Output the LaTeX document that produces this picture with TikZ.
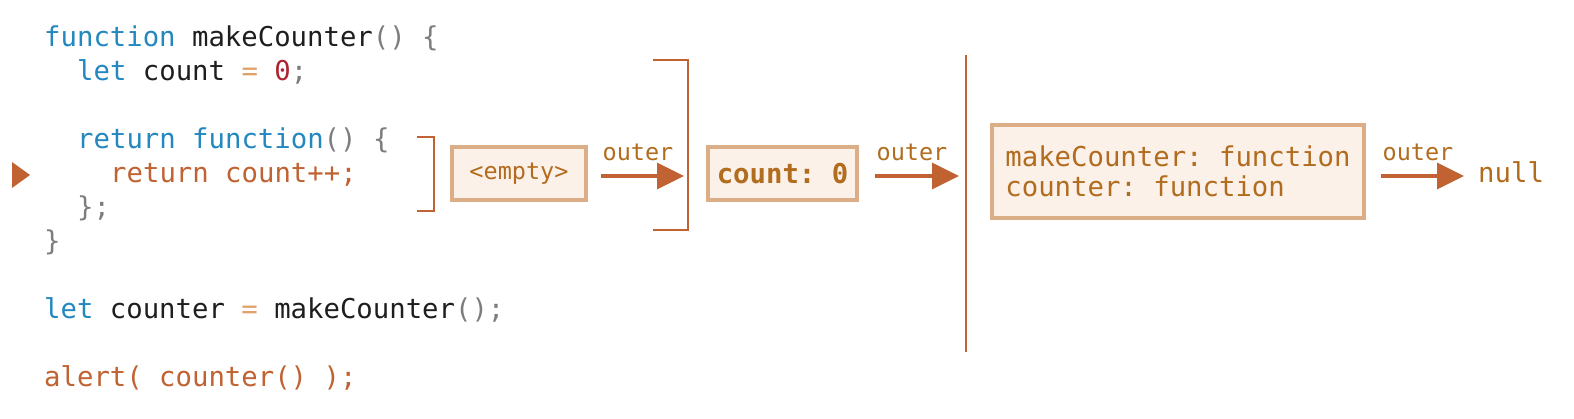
\documentclass[tikz,border=0pt]{standalone}
\usepackage{fontspec}
\setmonofont{DejaVu Sans Mono}
\usetikzlibrary{arrows.meta}
\definecolor{kwc}{RGB}{35,135,192}
\definecolor{fnc}{RGB}{30,30,30}
\definecolor{puc}{RGB}{125,125,125}
\definecolor{eqc}{RGB}{226,160,105}
\definecolor{numc}{RGB}{175,35,50}
\definecolor{hlc}{RGB}{192,98,50}
\definecolor{btc}{RGB}{178,108,30}
\definecolor{bbc}{RGB}{219,174,136}
\definecolor{bfc}{RGB}{251,241,233}
\newcommand\kwx[1]{\textcolor{kwc}{#1}}
\newcommand\fnx[1]{\textcolor{fnc}{#1}}
\newcommand\pux[1]{\textcolor{puc}{#1}}
\newcommand\eqx[1]{\textcolor{eqc}{#1}}
\newcommand\numx[1]{\textcolor{numc}{#1}}
\begin{document}
\begin{tikzpicture}[x=1pt,y=-1pt,
  code/.style={anchor=base west, inner sep=0pt, font=\ttfamily\fontsize{27.3}{34}\selectfont},
  envbox/.style={draw=bbc, fill=bfc, line width=4pt, text=btc, inner sep=0pt,
    font=\ttfamily\fontsize{27.3}{30}\selectfont},
  lbl/.style={anchor=base, inner sep=0pt, text=btc, font=\ttfamily\fontsize{23.5}{26}\selectfont},
  arr/.style={draw=hlc, line width=3.5pt, -{Triangle[width=26pt,length=27pt]}},
  brk/.style={draw=hlc, line width=2.5pt}]
\useasboundingbox[fill=white] (0,0) rectangle (1574,418);
% code
\node[code] (l1) at (44,46) {\kwx{function} \fnx{makeCounter}\pux{() \{}};
\node[code] (l2) at (77,80) {\kwx{let} \fnx{count} \eqx{=} \numx{0}\pux{;}};
\node[code] (l3) at (77,148) {\kwx{return function}\pux{() \{}};
\node[code, text=hlc] (l4) at (110,182) {return count++;};
\node[code] (l5) at (77,216) {\pux{\};}};
\node[code] (l6) at (44,250) {\pux{\}}};
\node[code] (l7) at (44,318) {\kwx{let} \fnx{counter} \eqx{=} \fnx{makeCounter}\pux{();}};
\node[code, text=hlc] (l8) at (44,386) {alert( counter() );};
% current line marker
\fill[hlc] (12,162) -- (30,175) -- (12,188) -- cycle;
% brackets
\draw[brk] (417,137) -- (434,137) -- (434,211) -- (417,211);
\draw[brk] (653,60) -- (688,60) -- (688,230) -- (653,230);
\draw[draw=hlc, line width=2.5pt] (966,55) -- (966,352);
% boxes
\node[envbox, minimum width=134pt, minimum height=53pt] (e) at (519,173.5) {\fontsize{23.5}{26}\selectfont<empty>};
\node[envbox, minimum width=149pt, minimum height=53pt] (c) at (782.5,173.5) {\bfseries count: 0};
\node[envbox, minimum width=372pt, minimum height=93pt, align=left] (g) at (1178,171.5) {makeCounter: function\\counter: function};
\node[anchor=base west, inner sep=0pt, text=btc, font=\ttfamily\fontsize{27.3}{30}\selectfont] (n) at (1478,182) {null};
% arrows
\coordinate (s1) at (601,176);
\coordinate (t1) at (684,176);
\coordinate (s2) at (875,176);
\coordinate (t2) at (959,176);
\coordinate (s3) at (1381,176);
\coordinate (t3) at (1464,176);
\draw[arr] (s1) -- (t1);
\draw[arr] (s2) -- (t2);
\draw[arr] (s3) -- (t3);
% labels
\node[lbl] (o1) at (638,160) {outer};
\node[lbl] (o2) at (912,160) {outer};
\node[lbl] (o3) at (1418,160) {outer};
\end{tikzpicture}
\end{document}
